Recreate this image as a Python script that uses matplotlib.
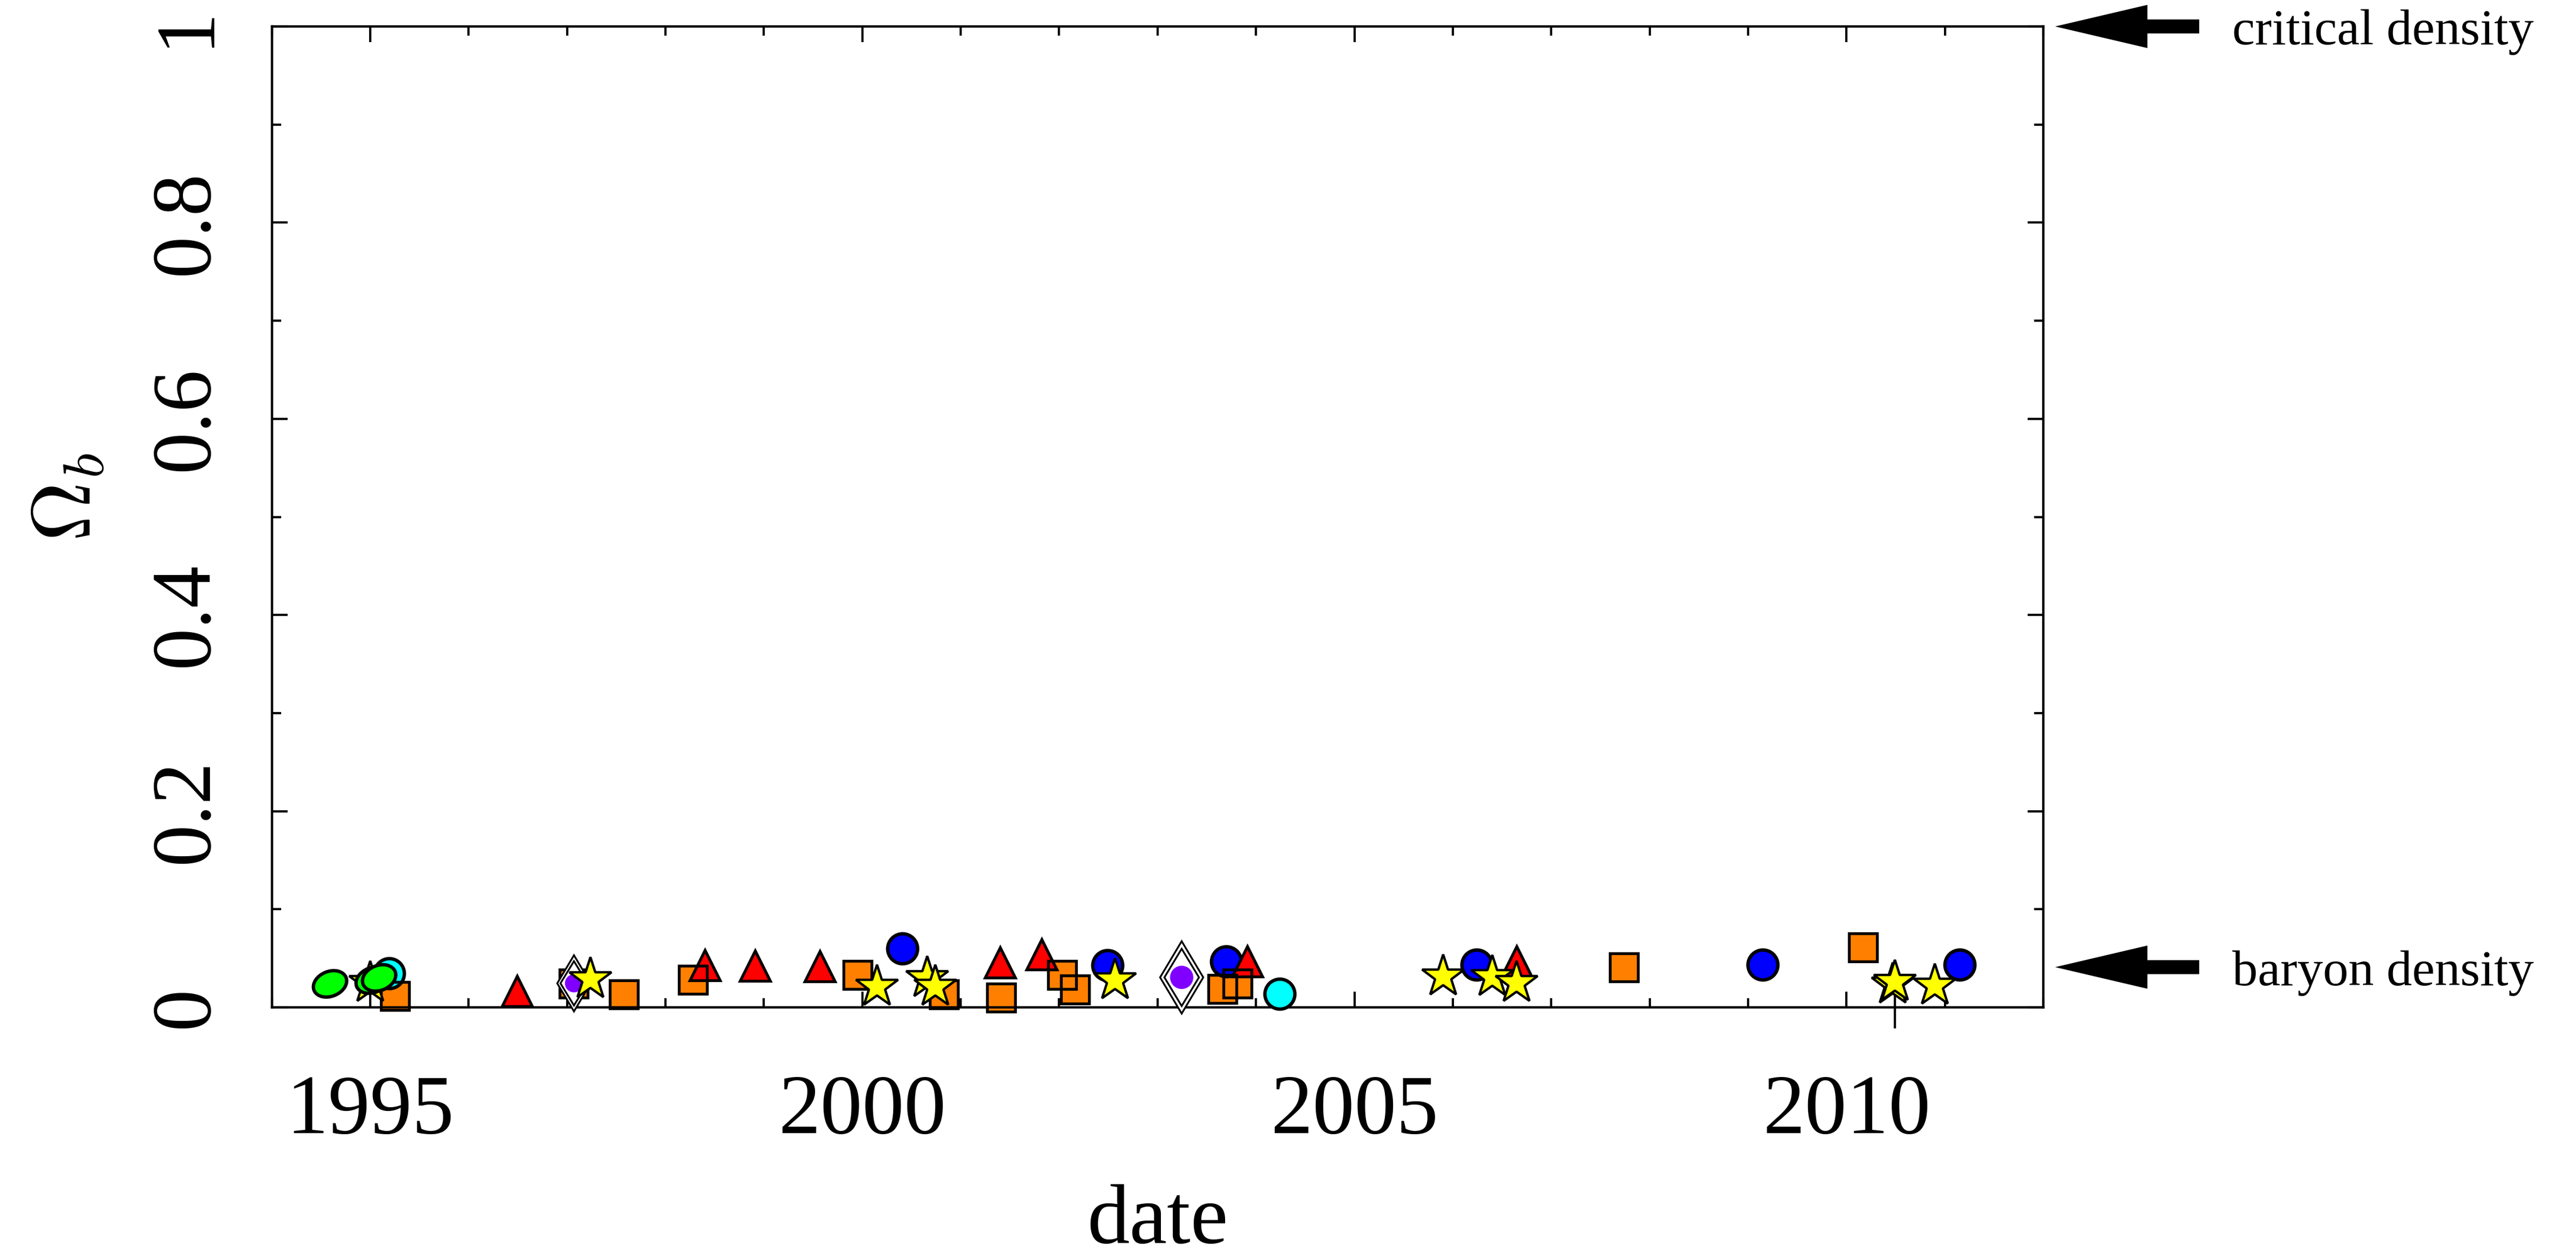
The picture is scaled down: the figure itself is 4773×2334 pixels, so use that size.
import matplotlib
matplotlib.use('Agg')
import matplotlib.pyplot as plt
from matplotlib.path import Path
from matplotlib.transforms import Affine2D
from matplotlib.ticker import MultipleLocator, FixedLocator

plt.rcParams['font.family'] = 'Liberation Serif'
plt.rcParams['mathtext.fontset'] = 'cm'

# baryon density estimates by publication date
sq_year = [1995.25, 1997.07, 1997.58, 1998.28, 1999.95, 2000.83, 2001.41,
           2002.03, 2002.16, 2003.66, 2003.81, 2007.74, 2010.17]
sq_omega = [0.0116, 0.0244, 0.013, 0.028, 0.0332, 0.0134, 0.010,
            0.0328, 0.018, 0.0187, 0.0244, 0.041, 0.0613]

tri_year = [1996.49, 1998.40, 1998.91, 1999.57, 2001.40, 2001.82, 2003.91, 2006.65]
tri_omega = [0.0165, 0.0427, 0.0422, 0.042, 0.0455, 0.0538, 0.0468, 0.047]

blue_year = [2000.41, 2002.49, 2003.70, 2006.24, 2009.15, 2011.15]
blue_omega = [0.060, 0.0427, 0.0468, 0.0433, 0.0437, 0.0433]

cyan_year = [1995.19, 2004.24]
cyan_omega = [0.0345, 0.0139]

star_year = [1995.00, 1997.24, 2000.15, 2000.66, 2000.74, 2002.57, 2005.90,
             2006.40, 2006.65, 2010.47, 2010.49, 2010.90]
star_omega = [0.025, 0.0288, 0.021, 0.0295, 0.0208, 0.0275, 0.0312,
              0.031, 0.025, 0.023, 0.026, 0.022]

# one star carries a lower error bar
err_year = [2010.49]
err_low = [-0.0215]
err_high = [0.026]

purple_year = [1997.07, 2003.24]
purple_omega = [0.025, 0.0306]

green_year = [1994.59, 1995.02, 1995.09]
green_omega = [0.024, 0.028, 0.030]

density_levels = [1.0, 0.041]
density_names = ['critical density', 'baryon density']

xticks_major = [1995, 2000, 2005, 2010]
yticks_major = [0, 0.2, 0.4, 0.6, 0.8, 1.0]
ytick_labels = ['0', '0.2', '0.4', '0.6', '0.8', '1']

fig = plt.figure(figsize=(4773 / 100, 2334 / 100), dpi=100)
ax = fig.add_axes([0.10551, 0.20051, 0.68770, 0.77849])

# tilted ellipse marker
ellipse = Affine2D().scale(1.0, 0.72).rotate_deg(22).transform_path(Path.unit_circle())

common = dict(ls='none', clip_on=False)

ax.plot(sq_year, sq_omega, marker='s', ms=38, mfc='#ff8000', mec='none', zorder=2, **common)
ax.plot(blue_year, blue_omega, marker='o', ms=40, mfc='#0000ff', mec='k', mew=4.5, zorder=3, **common)
ax.plot(cyan_year, cyan_omega, marker='o', ms=40, mfc='#00ffff', mec='k', mew=4.5, zorder=3, **common)
ax.plot(tri_year, tri_omega, marker='^', ms=40, mfc='#ff0000', mec='none', zorder=4, **common)
ax.plot(sq_year, sq_omega, marker='s', ms=38, mfc='none', mec='k', mew=3.8, zorder=5, **common)
ax.plot(tri_year, tri_omega, marker='^', ms=40, mfc='none', mec='k', mew=3.8, zorder=6, **common)

# purple points: double-outlined thin diamond around a dot
for i, (px, py) in enumerate(zip(purple_year, purple_omega)):
    scale = 0.78 if i == 0 else 1.0
    ax.plot([px], [py], marker='d', ms=68 * scale, mfc='white', mec='k', mew=2.4, zorder=7, **common)
    ax.plot([px], [py], marker='d', ms=54 * scale, mfc='white', mec='k', mew=2.4, zorder=7, **common)
    ax.plot([px], [py], marker='o', ms=31 * scale, mfc='#8000ff', mec='none', zorder=7, **common)

ax.vlines(err_year, err_low, err_high, colors='k', lw=3, zorder=7.5, clip_on=False)
ax.plot(star_year, star_omega, marker='*', ms=59, mfc='#ffff00', mec='k', mew=3.2, zorder=8, **common)
ax.plot(green_year, green_omega, marker=ellipse, ms=46, mfc='#00ff00', mec='k', mew=4.5, zorder=9, **common)

ax.set_xlim(1994, 2012)
ax.set_ylim(0, 1)
ax.xaxis.set_major_locator(FixedLocator(xticks_major))
ax.xaxis.set_minor_locator(MultipleLocator(1))
ax.set_yticks(yticks_major)
ax.set_yticklabels(ytick_labels, rotation=90, va='center')
ax.yaxis.set_minor_locator(MultipleLocator(0.1))

ax.tick_params(which='both', direction='in', top=True, right=True, width=3, labelsize=112)
ax.tick_params(which='major', length=21)
ax.tick_params(which='minor', length=12)
ax.tick_params(axis='x', which='major', pad=89)
ax.tick_params(axis='y', which='major', pad=62)
for s in ax.spines.values():
    s.set_linewidth(3.2)

ax.set_xlabel('date', fontsize=113)
ax.xaxis.set_label_coords(0.5, -0.18)
ax.set_ylabel(r'$\Omega_b$', fontsize=110)
ax.yaxis.set_label_coords(-0.0925, 0.52)

# arrows marking reference densities
for lev, name in zip(density_levels, density_names):
    ax.annotate('', xy=(1.0067, lev), xycoords=('axes fraction', 'data'),
                xytext=(1.0880, lev), textcoords=('axes fraction', 'data'),
                arrowprops=dict(arrowstyle='simple,head_length=1.23,head_width=0.576,tail_width=0.187',
                                mutation_scale=100, fc='k', ec='none', lw=0,
                                shrinkA=0, shrinkB=0),
                annotation_clip=False)
    ax.annotate(name, xy=(1.1067, lev), xycoords=('axes fraction', 'data'),
                xytext=(0, -24), textcoords='offset points',
                ha='left', va='baseline', fontsize=68, annotation_clip=False)

fig.savefig('out.png', dpi=100)
